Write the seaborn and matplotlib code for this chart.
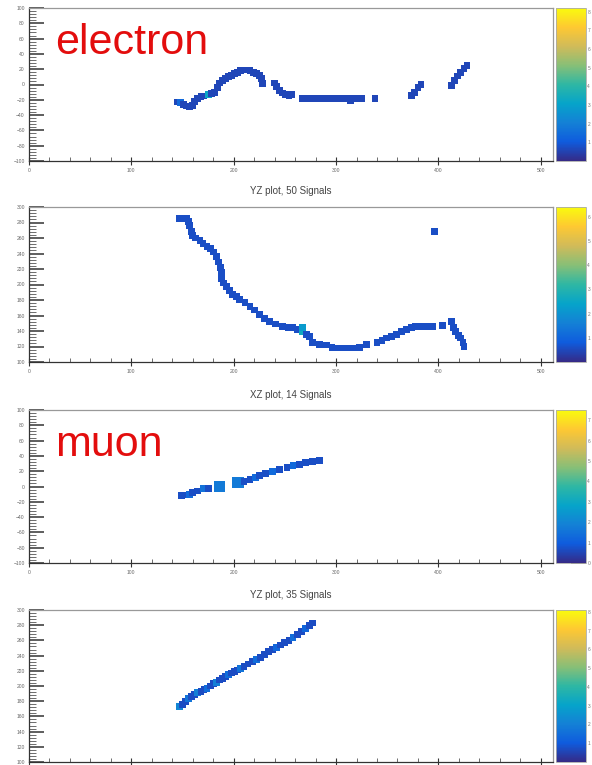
import matplotlib
matplotlib.use('Agg')
import matplotlib.pyplot as plt
import numpy as np
import pandas as pd
import seaborn as sns
from matplotlib.cm import ScalarMappable
from matplotlib.colors import LinearSegmentedColormap, Normalize
from matplotlib.ticker import AutoMinorLocator, MultipleLocator

# ---- electron, XZ projection (x [mm], z [mm], charge) ----
e_xz_x = [145, 148, 151, 154, 157, 160, 162, 165, 168, 171,
          175, 178, 181, 184, 186, 189, 192, 195, 198, 201,
          204, 207, 210, 213, 216, 219, 222, 225, 227, 228,
          240, 242, 245, 248, 251, 254, 257,
          267, 271, 275, 279, 283, 287, 291, 295, 299, 303,
          307, 311, 314, 318, 322, 325, 338,
          374, 377, 380, 383, 413, 416, 419, 422, 425, 428]
e_xz_z = [-23, -24, -26, -28, -29, -27, -22, -18, -16, -15,
          -13, -12, -10, -4, 2, 5, 8, 10, 12, 14,
          16, 18, 19, 19, 18, 16, 14, 12, 8, 1,
          2, -3, -8, -11, -13, -14, -13,
          -18, -18, -18, -18, -18, -18, -18, -18, -18, -18,
          -18, -18, -21, -18, -18, -18, -18,
          -14, -10, -4, 0, -1, 5, 11, 16, 21, 25]
e_xz_q = [0.6, 1.4, 0.6, 0.6, 0.6, 0.6, 0.6, 0.6, 0.6, 0.6,
          3.2, 0.6, 0.6, 0.6, 0.6, 0.6, 0.6, 0.6, 0.6, 0.6,
          0.6, 0.6, 0.6, 0.6, 0.6, 0.6, 0.6, 0.6, 0.6, 0.6,
          0.6, 0.6, 0.6, 0.6, 0.6, 0.6, 0.6,
          0.6, 0.6, 0.6, 0.6, 0.6, 0.6, 0.6, 0.6, 0.6, 0.6,
          0.6, 0.6, 0.6, 0.6, 0.6, 0.6, 0.6,
          0.6, 0.6, 0.6, 0.6, 0.6, 0.6, 0.6, 0.6, 0.6, 0.6]

# ---- electron, YZ projection ----
e_yz_x = [147, 151, 154, 156, 157, 159, 160, 163, 167, 170,
          174, 177, 180, 183, 185, 187, 188, 188, 190, 193,
          196, 199, 203, 206, 211, 216, 220, 225, 230, 235,
          241, 248, 253, 258, 262, 267, 267, 271, 274, 277,
          284, 291, 296, 300, 305, 310, 316, 323, 330, 340,
          345, 349, 354, 359, 364, 369, 374, 378, 383, 388,
          394, 404, 413, 415, 417, 420, 422, 424, 425, 396]
e_yz_y = [285, 285, 285, 281, 276, 268, 263, 260, 257, 253,
          249, 246, 242, 236, 229, 222, 216, 207, 202, 197,
          192, 187, 184, 181, 177, 172, 167, 161, 156, 152,
          149, 146, 145, 144, 142, 139, 144, 136, 133, 125,
          123, 122, 119, 118, 118, 118, 118, 119, 123, 125,
          128, 131, 133, 135, 139, 142, 144, 146, 146, 146,
          146, 147, 152, 145, 139, 134, 131, 125, 120, 268]
e_yz_q = [0.6, 0.6, 0.6, 0.6, 0.6, 0.6, 0.6, 0.6, 0.6, 0.6,
          0.6, 0.6, 0.6, 0.6, 0.6, 0.6, 0.6, 0.6, 0.6, 0.6,
          0.6, 0.6, 0.6, 0.6, 0.6, 0.6, 0.6, 0.6, 0.6, 0.6,
          0.6, 0.6, 0.6, 0.6, 0.6, 2.6, 2.2, 0.6, 0.6, 0.6,
          0.6, 0.6, 0.6, 0.6, 0.6, 0.6, 0.6, 0.6, 0.6, 0.6,
          0.6, 0.6, 0.6, 0.6, 0.6, 0.6, 0.6, 0.6, 0.6, 0.6,
          0.6, 0.6, 0.6, 0.6, 0.6, 0.6, 0.6, 0.6, 0.6, 0.6]

# ---- muon, XZ projection ----
m_xz_x = [149, 153, 157, 160, 165, 170, 175, 186, 204, 210,
          216, 221, 225, 231, 238, 245, 252, 258, 264, 270,
          277, 284]
m_xz_z = [-12, -11, -10, -8, -6, -3, -3, 0, 5, 7,
          9, 12, 14, 17, 20, 22, 25, 27, 29, 31,
          33, 34]
m_xz_q = [0.7, 0.7, 1.3, 0.7, 0.7, 1.5, 0.7, 1.7, 1.7, 0.7,
          0.7, 1.3, 0.7, 0.7, 1.3, 0.7, 0.7, 1.3, 0.7, 0.7,
          0.7, 0.7]
m_xz_w = [1, 1, 1, 1, 1, 1, 1, 2, 2, 1,
          1, 1, 1, 1, 1, 1, 1, 1, 1, 1,
          1, 1]

# ---- muon, YZ projection ----
m_yz_x = [147, 150, 153, 156, 159, 162, 165, 168, 171, 174,
          177, 180, 183, 186, 189, 192, 195, 198, 201, 204,
          207, 210, 214, 218, 222, 226, 230, 234, 238, 242,
          246, 250, 254, 258, 262, 266, 270, 274, 277]
m_yz_y = [173, 176, 180, 184, 186, 189, 191, 193, 195, 197,
          200, 203, 205, 208, 210, 212, 215, 217, 219, 221,
          223, 226, 229, 232, 235, 238, 241, 245, 248, 251,
          254, 257, 260, 264, 268, 272, 276, 280, 283]
m_yz_q = [2.2, 0.7, 0.7, 1.7, 0.7, 0.7, 2.0, 0.7, 0.7, 1.5,
          0.7, 0.7, 2.0, 0.7, 0.7, 0.7, 1.5, 0.7, 0.7, 0.7,
          1.7, 0.7, 0.7, 0.7, 1.5, 0.7, 0.7, 0.7, 0.7, 1.3,
          0.7, 0.7, 0.7, 1.5, 0.7, 0.7, 1.3, 0.7, 0.7]

titles = ['', 'YZ plot, 50 Signals', 'XZ plot, 14 Signals', 'YZ plot, 35 Signals']
labels = ['electron', '', 'muon', '']
cbar_max = [8.2, 6.4, 7.5, 8.1]
cbar_ticks = [range(1, 9), range(1, 7), range(0, 8), range(1, 9)]

# ROOT kBird palette
bird_stops = [0.0, 0.125, 0.25, 0.375, 0.5, 0.625, 0.75, 0.875, 1.0]
bird_r = [0.2082, 0.0592, 0.0780, 0.0232, 0.1802, 0.5301, 0.8186, 0.9956, 0.9764]
bird_g = [0.1664, 0.3599, 0.5041, 0.6419, 0.7178, 0.7492, 0.7328, 0.7862, 0.9832]
bird_b = [0.5293, 0.8684, 0.8385, 0.7914, 0.6425, 0.4662, 0.3499, 0.1968, 0.0539]
bird = LinearSegmentedColormap.from_list(
    'bird', list(zip(bird_stops, zip(bird_r, bird_g, bird_b))))

sns.set_theme(style='white')
plt.rcParams['font.family'] = ['Liberation Sans', 'DejaVu Sans']

W, H = 592, 765
fig = plt.figure(figsize=(W / 100, H / 100), dpi=100)
fig.patch.set_facecolor('white')

# pixel boxes (top, bottom) of the four frames
frames = [(8, 161), (207, 362), (410, 563), (610, 762)]
x0, x1 = 29, 553
cx0, cx1 = 556, 586


def fbox(left, right, top, bottom):
    return [left / W, 1 - bottom / H, (right - left) / W, (bottom - top) / H]


def draw_panel(i, df, ylim, ymajor, sized=False, xlabels=True):
    top, bottom = frames[i]
    ax = fig.add_axes(fbox(x0, x1, top, bottom))
    cax = fig.add_axes(fbox(cx0, cx1, top, bottom))
    norm = Normalize(0, cbar_max[i])
    kw = dict(x='x', y='y', hue='q', palette=bird, hue_norm=norm,
              marker='s', linewidth=0, legend=False, ax=ax)
    if sized:
        sns.scatterplot(data=df, size='w', sizes=(24, 70), size_norm=(1, 2), **kw)
    else:
        sns.scatterplot(data=df, s=24, **kw)

    ax.set_xlim(0, 512)
    ax.set_ylim(*ylim)
    ax.xaxis.set_major_locator(MultipleLocator(100))
    ax.xaxis.set_minor_locator(AutoMinorLocator(5))
    ax.yaxis.set_major_locator(MultipleLocator(ymajor))
    ax.yaxis.set_minor_locator(AutoMinorLocator(5))
    ax.tick_params(axis='y', which='major', direction='in', length=11, width=1.1,
                   color='#333', labelsize=3.6, labelcolor='#666', pad=3, left=True)
    ax.tick_params(axis='y', which='minor', direction='in', length=5, width=0.6,
                   color='#555', left=True)
    ax.tick_params(axis='x', which='major', direction='inout', length=6, width=0.8,
                   color='#333', labelsize=3.6, labelcolor='#666', pad=2, bottom=True,
                   labelbottom=xlabels)
    ax.tick_params(axis='x', which='minor', direction='in', length=3, width=0.6,
                   color='#555', bottom=True)
    ax.set_xlabel('')
    ax.set_ylabel('')
    for side in ['top', 'right']:
        ax.spines[side].set_color('#999999')
        ax.spines[side].set_linewidth(0.9)
    for side in ['left', 'bottom']:
        ax.spines[side].set_color('#333333')
        ax.spines[side].set_linewidth(0.9)

    if titles[i]:
        ax.set_title(titles[i], fontsize=7, color='#444', pad=9)
    if labels[i]:
        ax.text(0.05, 0.70, labels[i], transform=ax.transAxes, fontsize=31,
                color='#e30d0d', va='baseline', ha='left')

    cb = fig.colorbar(ScalarMappable(norm=norm, cmap=bird), cax=cax)
    cb.set_ticks(list(cbar_ticks[i]))
    cax.tick_params(direction='in', length=11, width=1.2, color='#333',
                    labelsize=3.5, labelcolor='#777', pad=1)
    cb.outline.set_edgecolor('#aaaaaa')
    cb.outline.set_linewidth(0.6)
    return ax


df_e_xz = pd.DataFrame({'x': e_xz_x, 'y': e_xz_z, 'q': e_xz_q})
df_e_yz = pd.DataFrame({'x': e_yz_x, 'y': e_yz_y, 'q': e_yz_q})
df_m_xz = pd.DataFrame({'x': m_xz_x, 'y': m_xz_z, 'q': m_xz_q, 'w': m_xz_w})
df_m_yz = pd.DataFrame({'x': m_yz_x, 'y': m_yz_y, 'q': m_yz_q})

draw_panel(0, df_e_xz, (-100, 100), 20)
draw_panel(1, df_e_yz, (100, 300), 20)
draw_panel(2, df_m_xz, (-100, 100), 20, sized=True)
draw_panel(3, df_m_yz, (100, 300), 20, xlabels=False)

fig.savefig('out.png', dpi=100, facecolor='white')
